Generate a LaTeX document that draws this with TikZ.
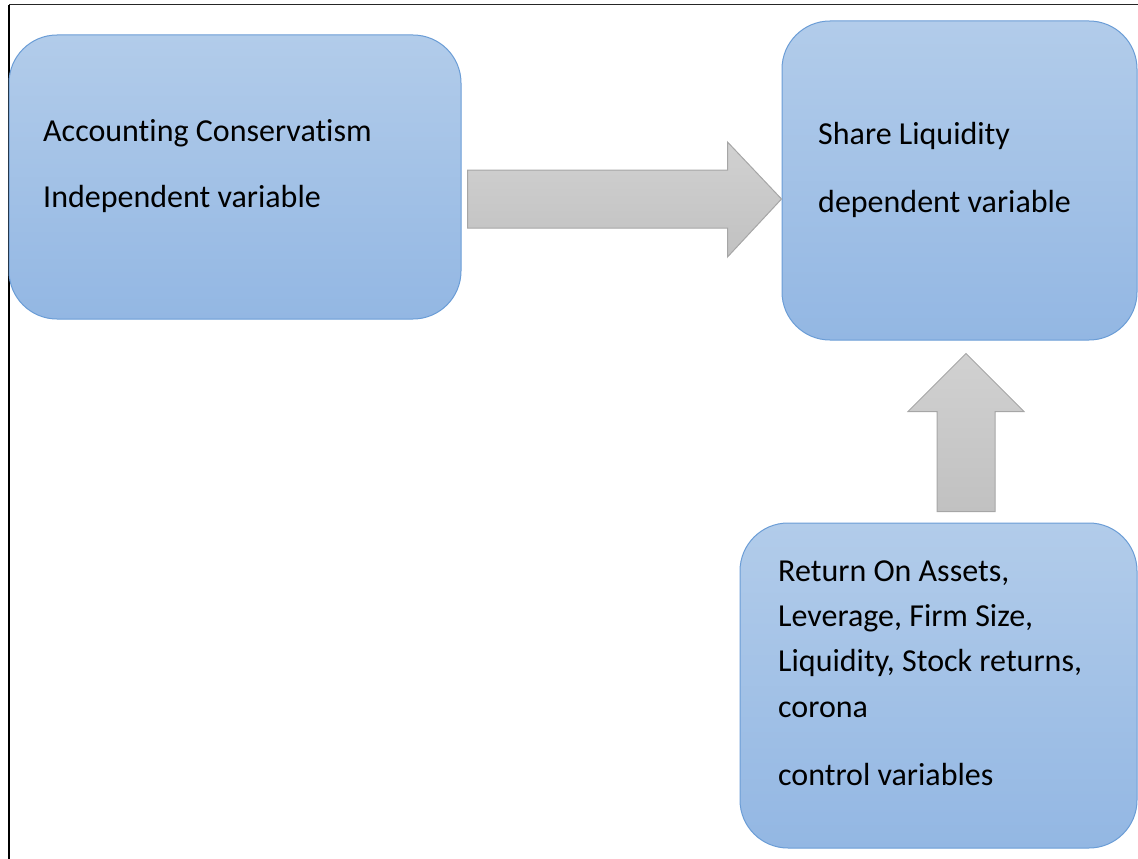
\documentclass[tikz,border=0pt]{standalone}
\usepackage{fontspec}
\setmainfont[Ligatures=NoCommon]{Carlito}
\usepackage{tikz}
\usetikzlibrary{calc}
\definecolor{BoxTop}{HTML}{B2CCEA}
\definecolor{BoxBot}{HTML}{93B7E3}
\definecolor{BoxEdge}{HTML}{6B9DD6}
\definecolor{ArrTop}{HTML}{D1D1D1}
\definecolor{ArrBot}{HTML}{C1C1C1}
\definecolor{ArrEdge}{HTML}{A6A6A6}
\begin{document}
\begin{tikzpicture}[x=1pt,y=-1pt,
  varbox/.style={rounded corners=48pt,draw=BoxEdge,line width=1pt,top color=BoxTop,bottom color=BoxBot,inner sep=0pt},
  blockarrow/.style={draw=ArrEdge,line width=1pt,top color=ArrTop,bottom color=ArrBot},
  vartext/.style={anchor=base west,inner sep=0pt,align=left,font=\fontsize{32}{45.3}\selectfont}]
\useasboundingbox (0,0) rectangle (1138,859);
\draw[black!85,line width=1pt] (9,5)--(1138,5);
\draw[black,line width=1.6pt] (9,5)--(9,859);
\node[varbox,minimum width=452pt,minimum height=284pt] (indep) at (235,177) {};
\node[varbox,minimum width=355pt,minimum height=319pt] (dep) at (959.5,180.5) {};
\node[varbox,minimum width=397pt,minimum height=325pt] (ctrl) at (938.5,685.5) {};
\node[vartext] (indepname) at (43,141) {Accounting Conservatism};
\node[vartext] (indeprole) at (43,207) {Independent variable};
\node[vartext] (depname) at (818,144) {Share Liquidity};
\node[vartext] (deprole) at (818,212) {dependent variable};
\node[vartext] (ctrlname) at (778,717) {Return On Assets,\\Leverage, Firm Size,\\Liquidity, Stock returns,\\corona};
\node[vartext] (ctrlrole) at (778,785) {control variables};
\path (indep.east) ++(6,22) coordinate (rtail);
\path (dep.west) ++(0,18.5) coordinate (rtip);
\draw[blockarrow] ($(rtail)+(0,-29)$) -- ($(rtip)+(-54,-29)$) -- ($(rtip)+(-54,-57)$) -- (rtip)
  -- ($(rtip)+(-54,58)$) -- ($(rtip)+(-54,29)$) -- ($(rtail)+(0,29)$) -- cycle;
\path (dep.south) ++(6.5,13) coordinate (utip);
\path (ctrl.north) ++(27.5,-11) coordinate (utail);
\draw[blockarrow] (utip) -- ($(utip)+(58,58)$) -- ($(utip)+(29,58)$) -- ($(utail)+(29,0)$)
  -- ($(utail)+(-29,0)$) -- ($(utip)+(-29,58)$) -- ($(utip)+(-58,58)$) -- cycle;
\end{tikzpicture}
\end{document}
